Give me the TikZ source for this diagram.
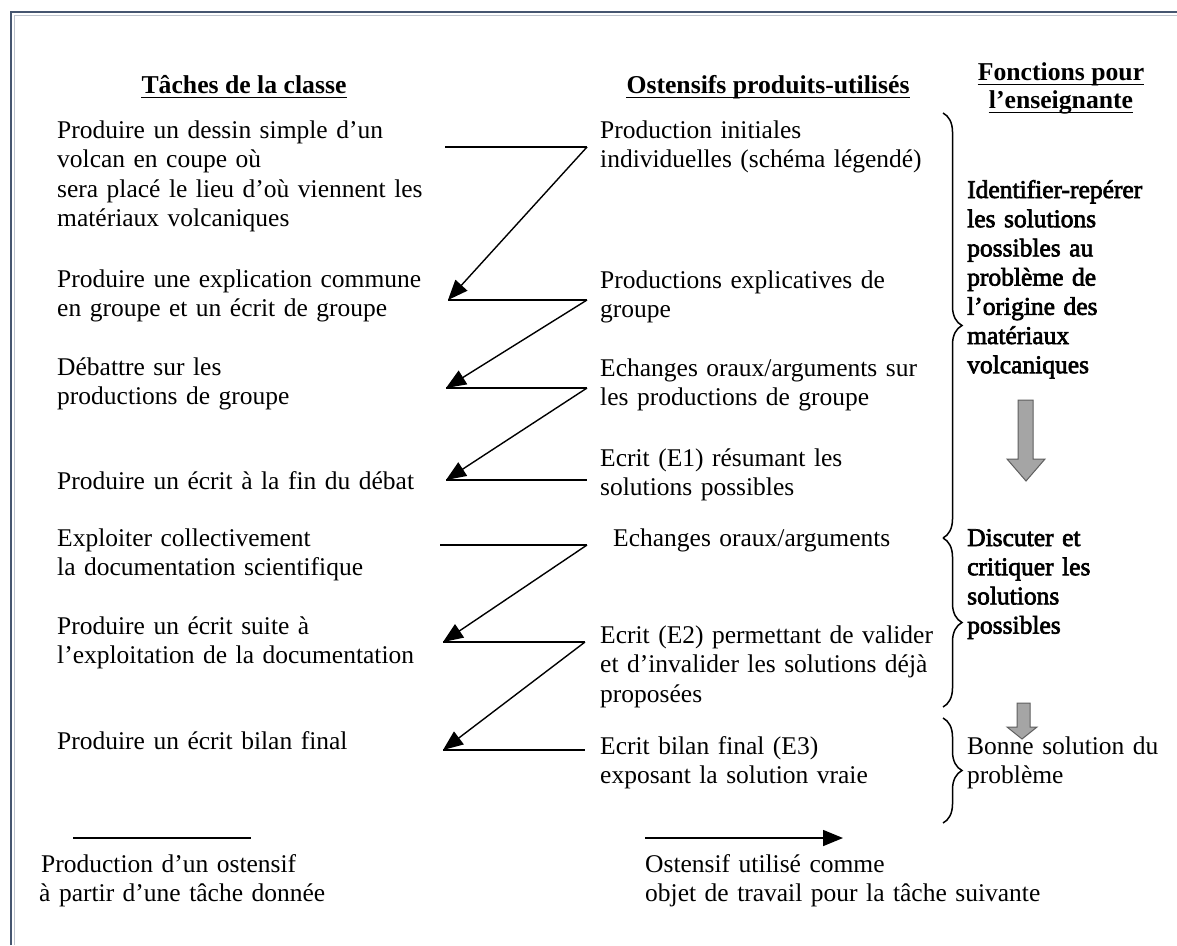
\documentclass[tikz,border=0pt]{standalone}
\usepackage{fontspec}
\setmainfont{Liberation Serif}
\newfontface\embold{Liberation Serif}[FakeBold=2.6]
\usetikzlibrary{arrows.meta,decorations.pathreplacing}
\definecolor{frame}{RGB}{70,86,112}
\definecolor{grayfill}{RGB}{165,165,165}
\definecolor{grayline}{RGB}{95,95,95}
\begin{document}
\begin{tikzpicture}[x=1pt,y=-1pt,
  txt/.style={anchor=base west,inner sep=0pt,text width=#1,align=left,
    font=\fontsize{25.5}{29.5}\selectfont},
  txt/.default=400pt,
  hdr/.style={anchor=base,inner sep=0pt,font=\fontsize{25.7}{29.5}\selectfont\bfseries},
  fn/.style={anchor=base west,inner sep=0pt,text width=200pt,align=left,
    font=\fontsize{25.5}{29.2}\selectfont\embold},
  link/.style={line width=1.5pt},
  tolink/.style={line width=1.4pt,-{Triangle[length=20pt,width=16pt,fill=black]}},
  uline/.style={line width=1.4pt},
  bracket/.style={line width=1.5pt,decorate,decoration={brace,amplitude=19pt,aspect=0.5}},
  bigarrow/.style={fill=grayfill,draw=grayline,line width=1pt}]
\useasboundingbox (0,0) rectangle (1177,945);
\fill[white] (0,0) rectangle (1177,945);
% frame
\draw[frame,line width=2.5pt] (11,945) -- (11,12) -- (1180,12);
\draw[frame!35,line width=1pt] (14.5,945) -- (14.5,15.5) -- (1180,15.5);

% headers
\node[hdr] (h1) at (244,93) {Tâches de la classe};
\node[hdr] (h2) at (768,93) {Ostensifs produits-utilisés};
\node[hdr] (h3a) at (1061,80) {Fonctions pour};
\node[hdr] (h3b) at (1061,108) {l’enseignante};
\foreach \n in {h1,h2,h3a,h3b}
  \draw[uline] ([yshift=-4.5pt]\n.base west) -- ([yshift=-4.5pt]\n.base east);

% left column
\node[txt] (t1) at (57,138) {Produire un dessin simple d’un\\volcan en coupe où\\sera placé le lieu d’où viennent les\\matériaux volcaniques};
\node[txt] (t2) at (57,287) {Produire une explication commune\\en groupe et un écrit de groupe};
\node[txt] (t3) at (57,375) {Débattre sur les\\productions de groupe};
\node[txt] (t4) at (57,489) {Produire un écrit à la fin du débat};
\node[txt] (t5) at (57,546) {Exploiter collectivement\\la documentation scientifique};
\node[txt] (t6) at (57,634) {Produire un écrit suite à\\l’exploitation de la documentation};
\node[txt] (t7) at (57,749) {Produire un écrit bilan final};

% middle column
\node[txt=370pt] (m1) at (600,138) {Production initiales\\individuelles (schéma légendé)};
\node[txt=370pt] (m2) at (600,288) {Productions explicatives de\\groupe};
\node[txt=370pt] (m3) at (600,376) {Echanges oraux/arguments sur\\les productions de groupe};
\node[txt=370pt] (m4) at (600,466) {Ecrit (E1) résumant les\\solutions possibles};
\node[txt=370pt] (m5) at (613,546) {Echanges oraux/arguments};
\node[txt=370pt] (m6) at (600,643) {Ecrit (E2) permettant de valider\\et d’invalider les solutions déjà\\proposées};
\node[txt=370pt] (m7) at (600,754) {Ecrit bilan final (E3)\\exposant la solution vraie};

% right column
\node[fn] (f1) at (967,198) {Identifier-repérer\\les solutions\\possibles au\\problème de\\l’origine des\\matériaux\\volcaniques};
\node[fn] (f2) at (967,546) {Discuter et\\critiquer les\\solutions\\possibles};
\node[txt=200pt] (f3) at (967,754) {Bonne solution du\\problème};

% braces
\coordinate (b1t) at (943,113);
\coordinate (b1b) at (943,538);
\coordinate (b2t) at (943,538);
\coordinate (b2b) at (943,707);
\coordinate (b3t) at (943,718);
\coordinate (b3b) at (943,823);
\draw[bracket] (b1t) -- (b1b);
\draw[bracket] (b2t) -- (b2b);
\draw[bracket] (b3t) -- (b3b);

% gray arrows
\draw[bigarrow] (1018,400) -- (1033,400) -- (1033,459) -- (1045,459) -- (1026,481)
  -- (1007,459) -- (1018,459) -- cycle;
\draw[bigarrow] (1017,703) -- (1030,703) -- (1030,727) -- (1037,727) -- (1022,739)
  -- (1007,727) -- (1017,727) -- cycle;

% connector points
\coordinate (p1L) at (445,147);  \coordinate (p1R) at (587,147);
\coordinate (p2L) at (448,300);  \coordinate (p2R) at (587,300);
\coordinate (p3L) at (446,388);  \coordinate (p3R) at (587,388);
\coordinate (p4L) at (446,480);  \coordinate (p4R) at (587,480);
\coordinate (p5L) at (440,545);  \coordinate (p5R) at (587,545);
\coordinate (p6L) at (443,642);  \coordinate (p6R) at (585,642);
\coordinate (p7L) at (443,750);  \coordinate (p7R) at (585,750);

\foreach \i in {1,...,7} \draw[link] (p\i L) -- (p\i R);
\draw[tolink] (p1R) -- (p2L);
\draw[tolink] (p2R) -- (p3L);
\draw[tolink] (p3R) -- (p4L);
\draw[tolink] (p5R) -- (p6L);
\draw[tolink] (p6R) -- (p7L);

% legend
\coordinate (l1a) at (73,838);  \coordinate (l1b) at (251,838);
\coordinate (l2a) at (645,838); \coordinate (l2b) at (843,838);
\draw[link] (l1a) -- (l1b);
\draw[line width=1.5pt,-{Triangle[length=20pt,width=16pt,fill=black]}] (l2a) -- (l2b);
\node[txt] (lg1) at (39,872) {\hspace*{2pt}Production d’un ostensif\\à partir d’une tâche donnée};
\node[txt] (lg2) at (645,872) {Ostensif utilisé comme\\objet de travail pour la tâche suivante};
\end{tikzpicture}
\end{document}
